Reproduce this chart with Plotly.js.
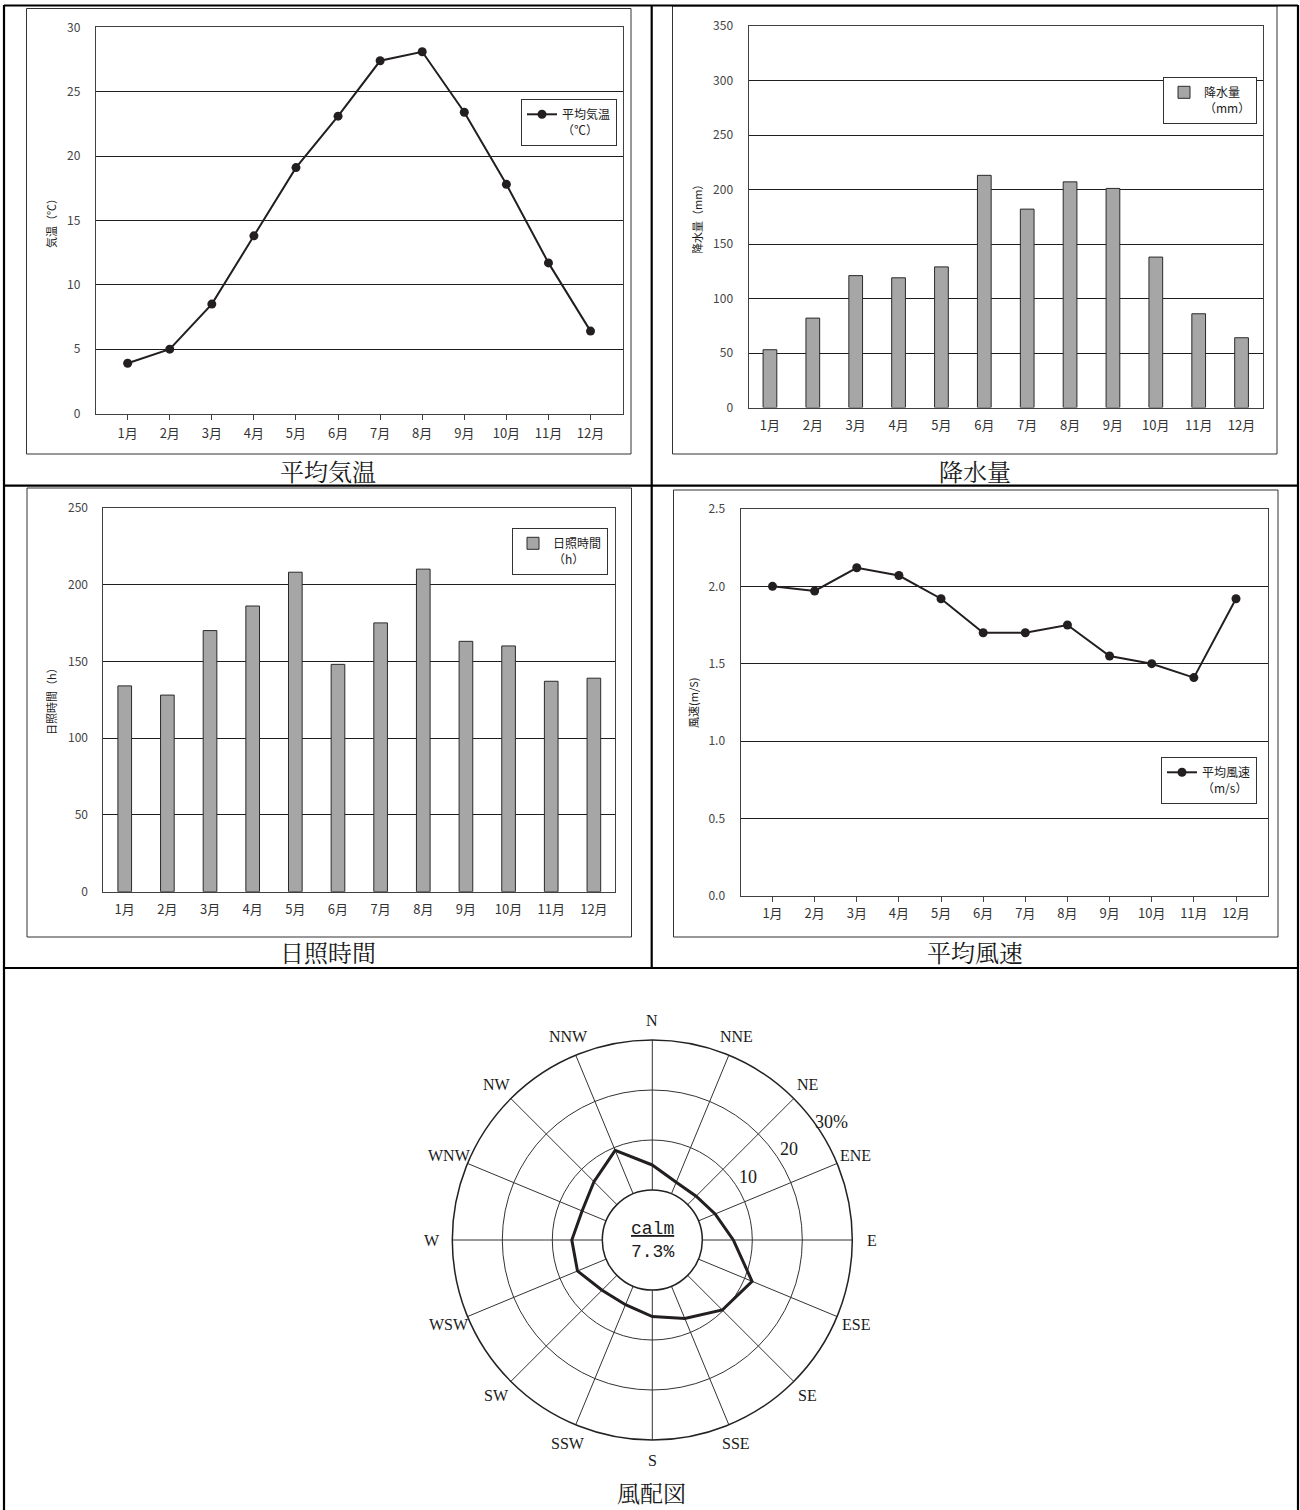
<!DOCTYPE html>
<html><head><meta charset="utf-8">
<script src="https://cdn.plot.ly/plotly-3.0.1.min.js"></script>
<style>html,body{margin:0;padding:0;background:#fff}#chart{width:1300px;height:1510px}</style>
</head><body><div id="chart"></div>
<script>
// ---- data ----
const months = ['1月','2月','3月','4月','5月','6月','7月','8月','9月','10月','11月','12月'];
const temperature = [3.9, 5.0, 8.5, 13.8, 19.1, 23.1, 27.4, 28.1, 23.4, 17.8, 11.7, 6.4];
const precipitation = [53, 82, 121, 119, 129, 213, 182, 207, 201, 138, 86, 64];
const sunshine = [134, 128, 170, 186, 208, 148, 175, 210, 163, 160, 137, 139];
const windSpeed = [2.00, 1.97, 2.12, 2.07, 1.92, 1.70, 1.70, 1.75, 1.55, 1.50, 1.41, 1.92];
const directions = ['N','NNE','NE','ENE','E','ESE','SE','SSE','S','SSW','SW','WSW','W','WNW','NW','NNW'];
const windFreq = [5.0, 2.5, 2.4, 3.6, 6.2, 11.6, 9.8, 7.0, 5.3, 4.0, 4.2, 6.2, 6.1, 5.2, 6.5, 9.4];
const calmPct = 7.3;
const rosTickVals = [10, 20, 30];
const rosTickText = ['10', '20', '30%'];

// ---- helpers / style ----
const W = 1300, H = 1510;
const px = x => x / W;
const py = y => 1 - y / H;
const SANS = '"Noto Sans CJK JP", "Noto Sans", sans-serif';
const TITLEF = '"Noto Serif CJK JP", "Noto Sans CJK JP", serif';
const SERIF = '"Liberation Serif", "DejaVu Serif", serif';
const INK = '#231f20';

// wind-rose geometry (pixels)
const ROSE = {cx: 652.3, cy: 1240, R: 200, hole: 0.25, max: 30,
  labelBearing: 56.5, labelPad: 2.9, dirGap: 20};
const dirAngles = directions.map((d, i) => i * 360 / directions.length);

function xAxis(x0, x1, anchor, withTicks, standoff) {
  return {
    domain: [px(x0), px(x1)], anchor: anchor, type: 'category',
    showline: true, mirror: true, linecolor: '#404040', linewidth: 1,
    showgrid: false, zeroline: false,
    ticks: withTicks ? 'outside' : '', ticklen: 5, tickcolor: '#404040', tickwidth: 1,
    tickfont: {family: SANS, size: 13, color: '#333'},
    ticklabelstandoff: standoff, fixedrange: true
  };
}
function yAxis(y0, y1, anchor, range, dtick, fmt) {
  return {
    domain: [py(y1), py(y0)], anchor: anchor, range: range, dtick: dtick, tick0: 0,
    tickformat: fmt || '',
    showline: true, mirror: true, linecolor: '#404040', linewidth: 1,
    showgrid: true, gridcolor: '#1e1e1e', gridwidth: 1, zeroline: false, ticks: '',
    tickfont: {family: SANS, size: 12, color: '#444'},
    ticklabelstandoff: 12, fixedrange: true
  };
}
function legendAt(x, y, anchor) {
  return {x: px(x), y: py(y), xanchor: anchor || 'left', yanchor: 'top',
    bgcolor: '#fff', bordercolor: '#333', borderwidth: 1,
    font: {family: SANS, size: 12, color: '#222'}, valign: 'top'};
}

const traces = [
  {type: 'scatter', mode: 'lines+markers', x: months, y: temperature, xaxis: 'x', yaxis: 'y',
   name: '平均気温<br>（℃）', legend: 'legend',
   line: {color: INK, width: 2}, marker: {color: INK, size: 9}},
  {type: 'bar', x: months, y: precipitation, xaxis: 'x2', yaxis: 'y2',
   name: '降水量<br>（mm）', legend: 'legend2',
   marker: {color: '#a6a6a6', line: {color: '#2a2a2a', width: 1}}},
  {type: 'bar', x: months, y: sunshine, xaxis: 'x3', yaxis: 'y3',
   name: '日照時間<br>（h）', legend: 'legend3',
   marker: {color: '#a6a6a6', line: {color: '#2a2a2a', width: 1}}},
  {type: 'scatter', mode: 'lines+markers', x: months, y: windSpeed, xaxis: 'x4', yaxis: 'y4',
   name: '平均風速<br>（m/s）', legend: 'legend4',
   line: {color: INK, width: 2}, marker: {color: INK, size: 9}},
  {type: 'scatterpolar', mode: 'lines', subplot: 'polar', showlegend: false,
   r: windFreq.concat([windFreq[0]]),
   theta: dirAngles.concat([dirAngles[0]]),
   line: {color: INK, width: 3}}
];

const frame = (x0, y0, x1, y1) => ({type: 'rect', xref: 'paper', yref: 'paper',
  x0: px(x0), x1: px(x1), y0: py(y1), y1: py(y0), line: {color: '#333', width: 1}});
const rule = (x0, y0, x1, y1) => ({type: 'line', xref: 'paper', yref: 'paper',
  x0: px(x0), x1: px(x1), y0: py(y0), y1: py(y1), line: {color: '#000', width: 2.2}});

const shapes = [
  frame(26.5, 8.5, 631, 454), frame(672.5, 6, 1277, 454),
  frame(27, 488, 631.5, 937), frame(673.5, 490, 1278, 937),
  rule(4, 5.5, 1298, 5.5), rule(4, 5, 4, 1510), rule(1298, 5, 1298, 1510),
  rule(651.7, 5, 651.7, 968), rule(4, 485.7, 1298, 485.7), rule(4, 968, 1298, 968)
];

const ann = (text, x, y, size, font, angle) => ({text: text, xref: 'paper', yref: 'paper',
  x: px(x), y: py(y), xanchor: 'center', yanchor: 'middle', showarrow: false,
  textangle: angle || 0, font: {family: font, size: size, color: '#1a1a1a'}});

// positions on the wind rose, through its radial scale
function rosePix(rp, bearingDeg) {
  const b = bearingDeg * Math.PI / 180;
  return [ROSE.cx + rp * Math.sin(b), ROSE.cy - rp * Math.cos(b)];
}
function roseVal(v) {
  const r0 = ROSE.R * ROSE.hole;
  return r0 + (v / ROSE.max) * (ROSE.R - r0);
}
const ringLabels = rosTickVals.map((v, i) => {
  const p = rosePix(roseVal(v + ROSE.labelPad), ROSE.labelBearing);
  return ann(rosTickText[i], p[0], p[1], 18, SERIF);
});
const dirLabels = directions.map((d, i) => {
  const p = rosePix(ROSE.R + ROSE.dirGap, dirAngles[i]);
  return ann(d, p[0], p[1], 16, SERIF);
});

const annotations = [
  ann('平均気温', 328, 470, 24, TITLEF), ann('降水量', 975, 470, 24, TITLEF),
  ann('日照時間', 328, 951, 24, TITLEF), ann('平均風速', 975, 951, 24, TITLEF),
  ann('風配図', 652, 1492, 23, TITLEF),
  ann('気温（℃）', 51, 221, 11, SANS, -90), ann('降水量（mm）', 697, 217, 11, SANS, -90),
  ann('日照時間（h）', 51, 699, 11, SANS, -90), ann('風速(m/S)', 693, 703, 11, SANS, -90),
  ann('<span style="text-decoration:underline">calm</span><br>' + calmPct.toFixed(1) + '%',
      ROSE.cx, ROSE.cy, 18, '"Liberation Mono", monospace')
].concat(ringLabels, dirLabels);

const layout = {
  width: W, height: H, margin: {l: 0, r: 0, t: 0, b: 0},
  paper_bgcolor: '#fff', plot_bgcolor: '#fff', bargap: 0.68,
  font: {family: SANS, color: '#222'},
  xaxis: xAxis(95.7, 622.5, 'y', true, 3),
  yaxis: yAxis(27.3, 413.5, 'x', [0, 30], 5),
  xaxis2: xAxis(748.5, 1263, 'y2', false, 6),
  yaxis2: yAxis(26, 407.5, 'x2', [0, 350], 50),
  xaxis3: xAxis(103.4, 615.2, 'y3', false, 6),
  yaxis3: yAxis(507.7, 891.7, 'x3', [0, 250], 50),
  xaxis4: xAxis(740.5, 1268, 'y4', true, 1),
  yaxis4: yAxis(509, 895.7, 'x4', [0, 2.5], 0.5, '.1f'),
  legend: legendAt(521, 99),
  legend2: legendAt(1257, 77, 'right'),
  legend3: legendAt(608, 528, 'right'),
  legend4: legendAt(1161, 757),
  polar: {
    domain: {x: [px(ROSE.cx - ROSE.R), px(ROSE.cx + ROSE.R)], y: [py(ROSE.cy + ROSE.R), py(ROSE.cy - ROSE.R)]},
    hole: ROSE.hole, bgcolor: '#fff',
    radialaxis: {range: [0, ROSE.max], tickmode: 'array', tickvals: rosTickVals,
      showline: false, showticklabels: false, ticks: '', showgrid: true,
      gridcolor: '#333', gridwidth: 1},
    angularaxis: {type: 'linear', thetaunit: 'degrees', rotation: 90, direction: 'clockwise',
      tickmode: 'array', tickvals: dirAngles, ticktext: directions,
      showticklabels: false, ticks: '',
      showline: true, linecolor: '#222', linewidth: 1.5,
      showgrid: true, gridcolor: '#333', gridwidth: 1}
  },
  shapes: shapes, annotations: annotations
};

Plotly.newPlot('chart', traces, layout, {staticPlot: true, displayModeBar: false});
</script></body></html>
